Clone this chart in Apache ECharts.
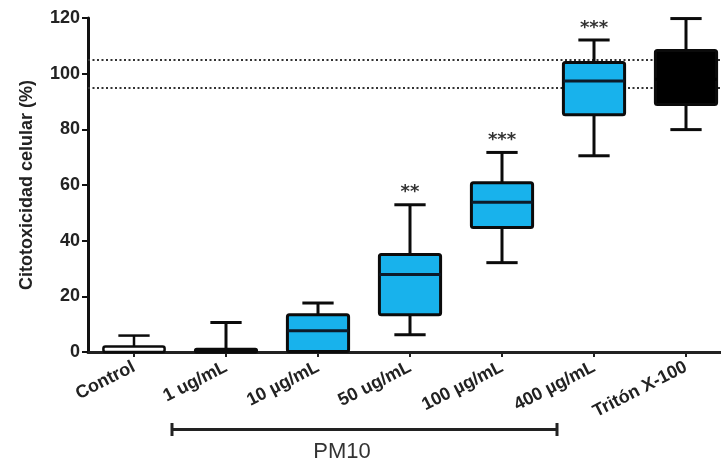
<!DOCTYPE html>
<html>
<head>
<meta charset="utf-8">
<style>
  html, body { margin: 0; padding: 0; background: #ffffff; }
  #chart { width: 721px; height: 462px; }
</style>
<script src="https://cdn.jsdelivr.net/npm/echarts@6/dist/echarts.min.js"></script>
</head>
<body>
<div id="chart"></div>
<script>
// ---- data ----
const categories = ['Control', '1 ug/mL', '10 µg/mL', '50 ug/mL', '100 µg/mL', '400 µg/mL', 'Tritón X-100'];
const whiskerLow  = [0,   0,   0,    6.2,  32.1, 70.5,  79.9];
const q1          = [0,   0,   0.2,  13.4, 44.7, 85.2,  88.9];
const median      = [1,   0.5, 7.6,  27.8, 53.8, 97.4,  98];
const q3          = [2,   1,   13.4, 35.0, 60.8, 104,   108.3];
const whiskerHigh = [5.9, 10.6, 17.6, 52.9, 71.7, 112.1, 119.8];
const significance = ['', '', '', '**', '***', '***', ''];
const refLines = [95, 105];
const yMin = 0, yMax = 120, yStep = 20;
const groupLabel = 'PM10';
const yName = 'Citotoxicidad celular (%)';

// ---- styles (by category index) ----
const fills = ['#ffffff', '#18b2ec', '#18b2ec', '#18b2ec', '#18b2ec', '#18b2ec', '#000000'];

const boxData = categories.map((c, i) => [i, whiskerLow[i], q1[i], median[i], q3[i], whiskerHigh[i]]);

const chart = echarts.init(document.getElementById('chart'), null, { renderer: 'canvas' });

function renderBox(params, api) {
  const i = api.value(0);
  const band = api.size([1, 0])[0];
  const pLow = api.coord([i, api.value(1)]);
  const pQ1 = api.coord([i, api.value(2)]);
  const pMed = api.coord([i, api.value(3)]);
  const pQ3 = api.coord([i, api.value(4)]);
  const pHigh = api.coord([i, api.value(5)]);
  const cx = pMed[0];
  const bw = band * 0.665;
  const cw = band * 0.34;
  const isCtrl = i === 0;
  const lw = isCtrl ? 2.5 : 3;
  const stroke = '#0b0b0b';
  const children = [];
  // whiskers
  children.push({ type: 'line', shape: { x1: cx, y1: pHigh[1], x2: cx, y2: pQ3[1] }, style: { stroke, lineWidth: lw } });
  children.push({ type: 'line', shape: { x1: cx, y1: pQ1[1], x2: cx, y2: pLow[1] }, style: { stroke, lineWidth: lw } });
  children.push({ type: 'line', shape: { x1: cx - cw / 2, y1: pHigh[1], x2: cx + cw / 2, y2: pHigh[1] }, style: { stroke, lineWidth: lw } });
  if (api.value(1) > 0) {
    children.push({ type: 'line', shape: { x1: cx - cw / 2, y1: pLow[1], x2: cx + cw / 2, y2: pLow[1] }, style: { stroke, lineWidth: lw } });
  }
  // box
  const bh = Math.max(pQ1[1] - pQ3[1], 1);
  children.push({
    type: 'rect',
    shape: { x: cx - bw / 2, y: pQ3[1], width: bw, height: bh, r: 2 },
    style: { fill: fills[i], stroke, lineWidth: lw }
  });
  // median (only visible when the box is tall enough)
  if (bh > 8) {
    children.push({ type: 'line', shape: { x1: cx - bw / 2, y1: pMed[1], x2: cx + bw / 2, y2: pMed[1] }, style: { stroke: fills[i] === '#000000' ? '#000' : '#0d1b2a', lineWidth: 3 } });
  }
  // significance
  const s = significance[i];
  if (s) {
    children.push({
      type: 'text',
      style: {
        text: s, x: cx, y: pHigh[1] - 12,
        fill: '#333', font: 'bold 18px "DejaVu Sans", sans-serif',
        align: 'center', verticalAlign: 'middle'
      }
    });
  }
  return { type: 'group', children };
}

chart.setOption({
  animation: false,
  backgroundColor: '#ffffff',
  grid: { left: 88, right: -11, top: 18, bottom: 110, containLabel: false, outerBoundsMode: 'none' },
  xAxis: {
    type: 'category',
    data: categories,
    boundaryGap: true,
    axisLine: { show: true, lineStyle: { color: '#222', width: 3 } },
    axisTick: { show: true, alignWithLabel: true, length: 5, lineStyle: { color: '#222', width: 2 } },
    axisLabel: {
      rotate: 27, margin: 14, interval: 0,
      color: '#222', fontSize: 18, fontWeight: 'bold',
      fontFamily: '"Liberation Sans", Arial, sans-serif'
    },
    splitLine: { show: false }
  },
  yAxis: {
    type: 'value',
    min: yMin, max: yMax, interval: yStep,
    name: yName,
    nameLocation: 'middle',
    nameGap: 52,
    nameTextStyle: { color: '#222', fontSize: 18, fontWeight: 'bold', fontFamily: '"Liberation Sans", Arial, sans-serif' },
    axisLine: { show: true, lineStyle: { color: '#111', width: 3 } },
    axisTick: { show: true, length: 6, lineStyle: { color: '#111', width: 2 } },
    axisLabel: { margin: 8, color: '#222', fontSize: 18, fontWeight: 'bold', fontFamily: '"Liberation Sans", Arial, sans-serif' },
    splitLine: { show: false }
  },
  series: [
    {
      type: 'line',
      data: [],
      z: 1,
      silent: true,
      markLine: {
        silent: true,
        symbol: ['none', 'none'],
        label: { show: false },
        lineStyle: { color: '#333', width: 2, type: [2, 2.5] },
        data: refLines.map(v => ({ yAxis: v }))
      }
    },
    {
      type: 'custom',
      z: 5,
      renderItem: renderBox,
      encode: { x: 0, y: [1, 2, 3, 4, 5] },
      data: boxData
    }
  ],
  graphic: [
    { type: 'line', shape: { x1: 172, y1: 429.5, x2: 557, y2: 429.5 }, style: { stroke: '#222', lineWidth: 3 } },
    { type: 'line', shape: { x1: 172, y1: 423, x2: 172, y2: 436 }, style: { stroke: '#222', lineWidth: 3 } },
    { type: 'line', shape: { x1: 557, y1: 423, x2: 557, y2: 436 }, style: { stroke: '#222', lineWidth: 3 } },
    {
      type: 'text',
      style: {
        text: groupLabel, x: 342, y: 452,
        fill: '#333', font: '22px "Liberation Sans", Arial, sans-serif',
        align: 'center', verticalAlign: 'middle'
      }
    }
  ]
});
</script>
</body>
</html>
